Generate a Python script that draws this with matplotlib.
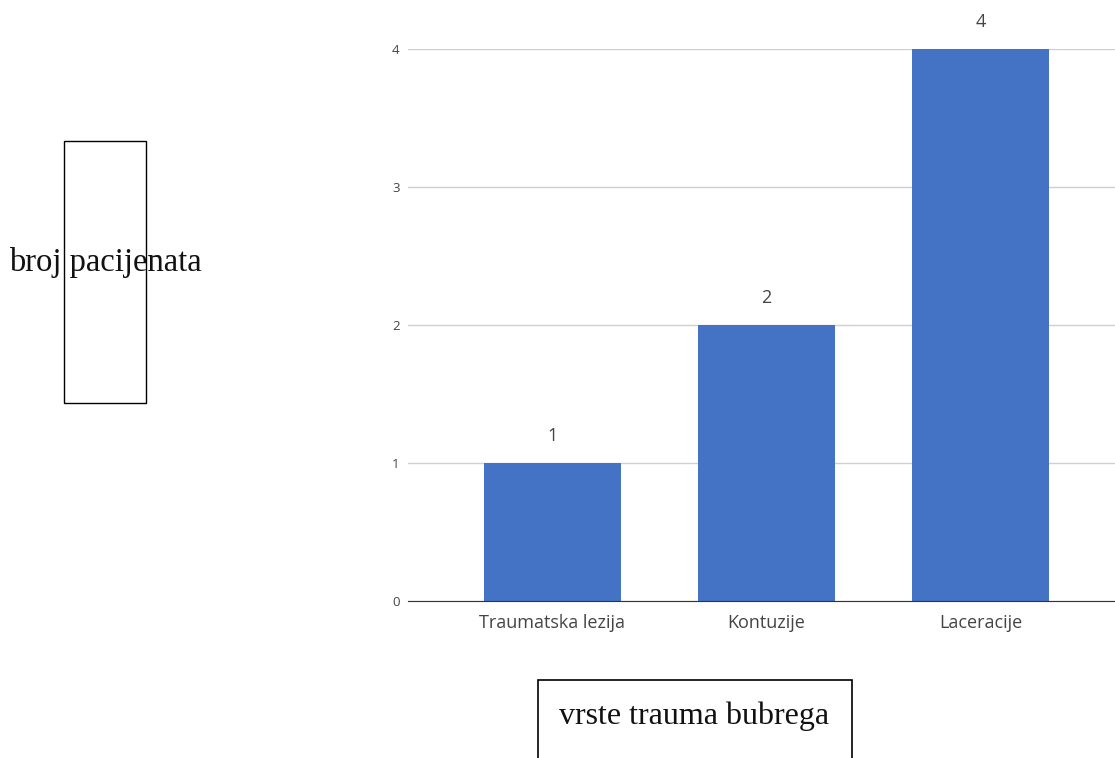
import matplotlib
matplotlib.use("Agg")
import matplotlib.pyplot as plt
from matplotlib.patches import Rectangle

# data
categories = ["Traumatska lezija", "Kontuzije", "Laceracije"]
counts = [1, 2, 4]
yticks = [0, 1, 2, 3, 4]

W, H = 1115, 758
fig = plt.figure(figsize=(W / 100, H / 100), dpi=100)

# axes: left edge at x=408, baseline at y=601, value 4 at y=49 (pixels)
ax = fig.add_axes([408 / W, (H - 601) / H, (W - 408) / W, (601 - 49) / H])
x = list(range(len(categories)))
ax.bar(x, counts, width=0.64, color="#4472C4", zorder=3)
for xi, c in zip(x, counts):
    ax.text(xi, c + 0.13, str(c), ha="center", va="bottom", fontsize=13,
            color="#444444", family="Open Sans", clip_on=False)

ax.set_xlim(-0.675, 2.628)
ax.set_ylim(0, 4)
ax.set_yticks(yticks)
ax.set_xticks(x)
ax.set_xticklabels(categories, fontsize=13, color="#444444", family="Open Sans")
ax.tick_params(axis="y", labelsize=9.5, colors="#444444", length=0, pad=6)
ax.tick_params(axis="x", length=0, pad=9)
for lab in ax.get_yticklabels():
    lab.set_family("Open Sans")
ax.grid(axis="y", color="#d0d0d0", linewidth=1, zorder=0)
for s in ["top", "right", "left"]:
    ax.spines[s].set_visible(False)
ax.spines["bottom"].set_color("#333333")
ax.spines["bottom"].set_zorder(4)

# axis title boxes (text boxes on the page)
fig.patches.append(Rectangle((64 / W, (H - 403) / H), 82 / W, 262 / H,
                             transform=fig.transFigure, fill=False,
                             edgecolor="black", linewidth=1))
fig.text(105 / W, (H - 262) / H, "broj pacijenata", ha="center", va="center",
         fontsize=23.5, family="Liberation Serif", color="#111111")

fig.patches.append(Rectangle((538 / W, -10 / H), 314 / W, (H - 680 + 10) / H,
                             transform=fig.transFigure, fill=False,
                             edgecolor="black", linewidth=1.2))
fig.text(694 / W, (H - 716) / H, "vrste trauma bubrega", ha="center", va="center",
         fontsize=23, family="Liberation Serif", color="#111111")

fig.savefig("out.png", dpi=100)
